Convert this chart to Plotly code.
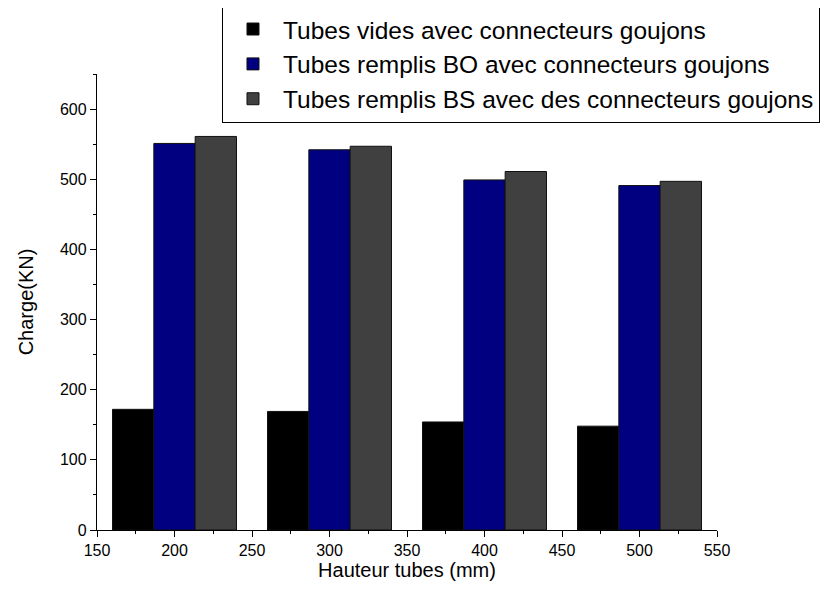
import plotly.graph_objects as go

heights = [200, 300, 400, 500]
vides = [172, 169, 154, 148]
remplis_bo = [551, 542, 499, 491]
remplis_bs = [561, 547, 511, 497]
names = [
    "Tubes vides avec connecteurs goujons",
    "Tubes remplis BO avec connecteurs goujons",
    "Tubes remplis BS avec des connecteurs goujons",
]
colors = ["#000000", "#000080", "#404040"]

fig = go.Figure()
for name, vals, col in zip(names, [vides, remplis_bo, remplis_bs], colors):
    fig.add_trace(go.Bar(x=heights, y=vals, name=name,
                         marker=dict(color=col, line=dict(color="#111111", width=1))))

axis_common = dict(
    showline=True, linecolor="black", linewidth=1.3, mirror=False,
    ticks="outside", ticklen=6, tickwidth=1.3, tickcolor="black",
    showgrid=False, zeroline=False,
    tickfont=dict(family="Arial, Liberation Sans", size=16, color="black"),
)
fig.update_layout(
    width=834, height=607,
    margin=dict(l=89, r=125, t=66, b=85, autoexpand=False),
    plot_bgcolor="white", paper_bgcolor="white",
    barmode="group", bargap=0.2, bargroupgap=0,
    font=dict(family="Arial, Liberation Sans", color="black"),
    xaxis=dict(range=[150, 550], dtick=50, tick0=150,
               minor=dict(ticks="outside", ticklen=3, dtick=25, tickcolor="black"),
               title=dict(text="Hauteur tubes (mm)", font=dict(size=20), standoff=0),
               **axis_common),
    yaxis=dict(range=[0, 650], dtick=100, tick0=0,
               minor=dict(ticks="outside", ticklen=3, dtick=50, tickcolor="black"),
               title=dict(text="Charge(KN)", font=dict(size=20), standoff=20),
               **axis_common),
    legend=dict(x=0.2016, y=1.15, xanchor="left", yanchor="top",
                bordercolor="black", borderwidth=1, bgcolor="white",
                font=dict(size=24.5, family="Arial, Liberation Sans", color="black"),
                itemwidth=50, tracegroupgap=0),
)
fig.write_html("out.html")
